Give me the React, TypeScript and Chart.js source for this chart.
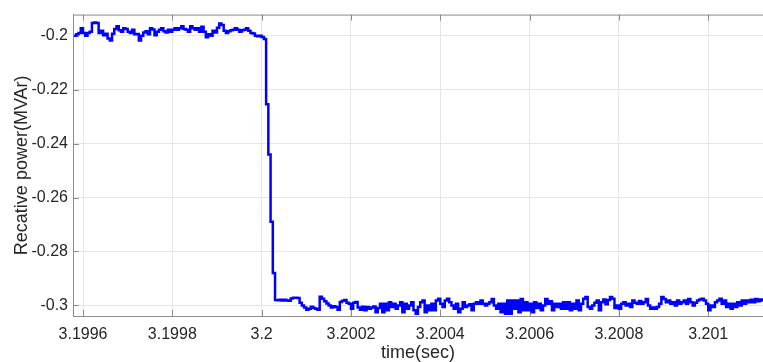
import { useEffect, useRef } from "react";
import { Chart, registerables } from "chart.js";

Chart.register(...registerables);

// Reactive power samples, uniform sample clock (held between samples)
const TIME_START = 3.19958; // s
const SAMPLE_STEP = 5e-6; // s
const REACTIVE_POWER = [
  -0.2, -0.1995, -0.199, -0.1972, -0.199, -0.2, -0.199, -0.1985, -0.1953, -0.1951,
  -0.1953, -0.199, -0.1982, -0.1998, -0.1993, -0.201, -0.2018, -0.1993, -0.1975, -0.1965,
  -0.198, -0.1985, -0.1972, -0.1975, -0.1985, -0.199, -0.1978, -0.1995, -0.1994, -0.2018,
  -0.2, -0.1988, -0.1983, -0.1995, -0.1972, -0.1977, -0.1998, -0.1985, -0.1978, -0.1972,
  -0.1983, -0.1988, -0.1978, -0.1985, -0.1978, -0.1972, -0.1978, -0.1972, -0.1965, -0.1975,
  -0.1978, -0.1985, -0.1965, -0.1972, -0.1978, -0.1972, -0.1985, -0.1967, -0.1985, -0.2006,
  -0.1995, -0.2, -0.1982, -0.1988, -0.197, -0.1955, -0.196, -0.1982, -0.199, -0.1983,
  -0.198, -0.1978, -0.1972, -0.1978, -0.1985, -0.198, -0.1978, -0.1972, -0.1982, -0.199,
  -0.1992, -0.2, -0.2002, -0.2, -0.2005, -0.2012, -0.2254, -0.244, -0.269, -0.288,
  -0.298, -0.2981, -0.2979, -0.2982, -0.2979, -0.2982, -0.2983, -0.2974, -0.2972, -0.2972,
  -0.2973, -0.299, -0.3, -0.3008, -0.3016, -0.3012, -0.3005, -0.301, -0.3012, -0.3016,
  -0.2968, -0.2975, -0.2985, -0.2993, -0.3, -0.3008, -0.3003, -0.3006, -0.3016, -0.2987,
  -0.2983, -0.298, -0.299, -0.2994, -0.3012, -0.299, -0.2987, -0.3008, -0.3016, -0.3005,
  -0.3018, -0.3006, -0.3012, -0.3008, -0.3004, -0.3025, -0.301, -0.2994, -0.3025, -0.2994,
  -0.3018, -0.2988, -0.3006, -0.2994, -0.3012, -0.3, -0.2988, -0.3025, -0.2994, -0.3012,
  -0.3, -0.2988, -0.3018, -0.3031, -0.3006, -0.2988, -0.2982, -0.3025, -0.3, -0.3018,
  -0.2994, -0.3018, -0.2982, -0.2975, -0.2994, -0.3006, -0.2982, -0.2975, -0.2988, -0.3,
  -0.3012, -0.2994, -0.3025, -0.3012, -0.2988, -0.3006, -0.3, -0.2996, -0.3018, -0.2994,
  -0.2988, -0.2994, -0.2982, -0.2994, -0.3, -0.2994, -0.2988, -0.2976, -0.3, -0.3012,
  -0.2994, -0.3025, -0.2994, -0.3031, -0.2982, -0.3031, -0.2982, -0.3012, -0.2982, -0.3025,
  -0.2976, -0.3018, -0.2988, -0.3018, -0.2994, -0.3025, -0.2988, -0.301, -0.2994, -0.3018,
  -0.3, -0.2976, -0.2994, -0.2985, -0.3018, -0.2994, -0.3006, -0.2994, -0.3012, -0.2988,
  -0.3012, -0.2988, -0.3018, -0.2994, -0.3012, -0.2982, -0.3018, -0.2994, -0.2975, -0.2969,
  -0.3006, -0.3012, -0.3, -0.299, -0.2982, -0.3018, -0.2988, -0.2978, -0.2996, -0.298,
  -0.2969, -0.2975, -0.301, -0.3, -0.3012, -0.2994, -0.2988, -0.3, -0.2994, -0.3006,
  -0.2982, -0.299, -0.2994, -0.2984, -0.2994, -0.2988, -0.2976, -0.3, -0.3012, -0.3008,
  -0.3012, -0.3006, -0.2994, -0.2969, -0.2976, -0.2988, -0.2982, -0.2994, -0.2988, -0.3,
  -0.2982, -0.2994, -0.2988, -0.2982, -0.2994, -0.2976, -0.2988, -0.3, -0.299, -0.2982,
  -0.2978, -0.2975, -0.2982, -0.2994, -0.3018, -0.3, -0.3006, -0.2988, -0.2982, -0.2975,
  -0.2994, -0.2982, -0.3006, -0.2994, -0.3012, -0.2994, -0.3006, -0.2988, -0.3, -0.2982,
  -0.2994, -0.2982, -0.2988, -0.2979, -0.2988, -0.2976, -0.2985, -0.2978, -0.2982, -0.2978,
];

const X_TICKS = [3.1996, 3.1998, 3.2, 3.2002, 3.2004, 3.2006, 3.2008, 3.201];
const Y_TICKS = [-0.3, -0.28, -0.26, -0.24, -0.22, -0.2];
const X_LIMITS = [3.1995776, 3.2011226];
const Y_LIMITS = [-0.30393, -0.19217];

const AXIS_COLOR = "#8c8c8c";
const TEXT_COLOR = "#262626";
const FONT_FAMILY = "'Liberation Sans', Arial, Helvetica, sans-serif";

// Box outline on top edge plus inward tick marks on the box edges
const axisFrame = {
  id: "axisFrame",
  beforeDatasetsDraw(chart: any) {
    const { ctx, chartArea, scales } = chart;
    const { left, right, top, bottom } = chartArea;
    ctx.save();
    ctx.strokeStyle = AXIS_COLOR;
    ctx.lineWidth = 1;
    ctx.beginPath();
    ctx.moveTo(left, top + 0.5);
    ctx.lineTo(right, top + 0.5);
    for (const v of X_TICKS) {
      const x = Math.round(scales.x.getPixelForValue(v)) + 0.5;
      ctx.moveTo(x, top);
      ctx.lineTo(x, top + 6);
      ctx.moveTo(x, bottom);
      ctx.lineTo(x, bottom - 6);
    }
    for (const v of Y_TICKS) {
      const y = Math.round(scales.y.getPixelForValue(v)) + 0.5;
      ctx.moveTo(left, y);
      ctx.lineTo(left + 6, y);
    }
    ctx.stroke();
    ctx.restore();
  },
};

const formatTick = (v: number) => String(Number(v.toFixed(4)));

export default function App() {
  const canvasRef = useRef<HTMLCanvasElement | null>(null);

  useEffect(() => {
    const canvas = canvasRef.current;
    if (!canvas) return;
    const points = REACTIVE_POWER.map((y, i) => ({ x: TIME_START + i * SAMPLE_STEP, y }));

    const chart = new Chart(canvas, {
      type: "line",
      data: {
        datasets: [
          {
            data: points,
            borderColor: "#0000ff",
            borderWidth: 2.5,
            pointRadius: 0,
            stepped: "before",
            fill: false,
          },
        ],
      },
      plugins: [axisFrame],
      options: {
        animation: false,
        responsive: false,
        devicePixelRatio: 1,
        parsing: false,
        layout: { padding: { top: 12, right: 0, left: 0, bottom: 0 } },
        plugins: {
          legend: { display: false },
          tooltip: { enabled: false },
        },
        scales: {
          x: {
            type: "linear",
            min: X_LIMITS[0],
            max: X_LIMITS[1],
            afterBuildTicks: (scale: any) => {
              scale.ticks = X_TICKS.map((value) => ({ value }));
            },
            afterFit: (scale: any) => {
              scale.height = 46;
            },
            ticks: {
              callback: (v: any) => formatTick(Number(v)),
              color: TEXT_COLOR,
              font: { family: FONT_FAMILY, size: 16 },
              padding: 9,
              maxRotation: 0,
              autoSkip: false,
            },
            grid: { color: "#e6e6e6", drawTicks: false },
            border: { display: true, color: AXIS_COLOR, width: 1 },
            title: {
              display: true,
              text: "time(sec)",
              color: TEXT_COLOR,
              font: { family: FONT_FAMILY, size: 18, lineHeight: 1 },
              padding: { top: 0, bottom: 0 },
            },
          },
          y: {
            type: "linear",
            min: Y_LIMITS[0],
            max: Y_LIMITS[1],
            afterBuildTicks: (scale: any) => {
              scale.ticks = Y_TICKS.map((value) => ({ value }));
            },
            afterFit: (scale: any) => {
              scale.width = 73;
            },
            ticks: {
              callback: (v: any) => formatTick(Number(v)),
              color: TEXT_COLOR,
              font: { family: FONT_FAMILY, size: 16 },
              padding: 5,
              autoSkip: false,
            },
            grid: { color: "#e6e6e6", drawTicks: false },
            border: { display: true, color: AXIS_COLOR, width: 1 },
            title: {
              display: true,
              text: "Recative power(MVAr)",
              color: TEXT_COLOR,
              font: { family: FONT_FAMILY, size: 18, lineHeight: 1 },
              padding: { top: 13, bottom: 0 },
            },
          },
        },
      },
    });

    return () => chart.destroy();
  }, []);

  return (
    <div
      style={{
        position: "fixed",
        left: 0,
        top: 0,
        width: 763,
        height: 362,
        background: "#ffffff",
      }}
    >
      <canvas ref={canvasRef} width={763} height={362} style={{ display: "block" }} />
    </div>
  );
}
